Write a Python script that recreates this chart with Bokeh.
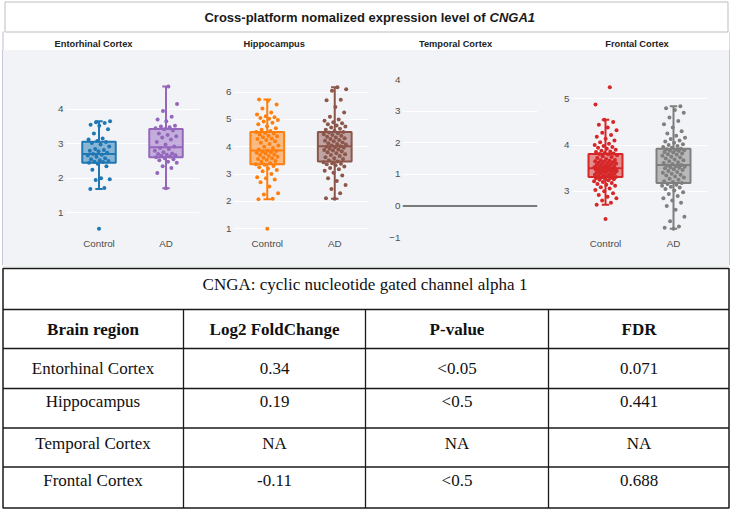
from bokeh.plotting import figure
from bokeh.models import Range1d, FixedTicker, Span, Spacer
from bokeh.layouts import column, row
from bokeh.embed import file_html
from bokeh.resources import INLINE
from bokeh.core.properties import value

# ---------------- data ----------------
title_main = "Cross-platform nomalized expression level of"
title_gene = "CNGA1"
regions = ["Entorhinal Cortex", "Hippocampus", "Temporal Cortex", "Frontal Cortex"]
groups = ["Control", "AD"]

# box stats: q1, median, q3, lower whisker, upper whisker
ent_ctrl_stats = [2.45, 2.70, 3.06, 1.69, 3.65]
ent_ad_stats = [2.61, 2.90, 3.43, 1.71, 4.66]
hip_ctrl_stats = [3.36, 3.86, 4.54, 2.08, 5.73]
hip_ad_stats = [3.46, 4.02, 4.54, 2.10, 6.18]
fro_ctrl_stats = [3.31, 3.50, 3.81, 2.71, 4.55]
fro_ad_stats = [3.18, 3.57, 3.92, 2.19, 4.84]

ent_ctrl_pts = [0.54, 1.69, 1.72, 1.95, 1.97, 2.00, 2.25, 2.35, 2.42, 2.45, 2.47, 2.48, 2.50,
                2.52, 2.55, 2.58, 2.62, 2.66, 2.68, 2.70, 2.74, 2.78, 2.80, 2.82, 2.85, 2.92,
                2.98, 3.02, 3.05, 3.08, 3.12, 3.15, 3.30, 3.42, 3.52, 3.55, 3.60, 3.62, 3.65]
ent_ad_pts = [1.71, 2.15, 2.30, 2.35, 2.45, 2.48, 2.52, 2.55, 2.58, 2.61, 2.63, 2.65, 2.67,
              2.68, 2.70, 2.72, 2.75, 2.80, 2.85, 2.88, 2.92, 2.98, 3.05, 3.12, 3.18, 3.22,
              3.25, 3.30, 3.38, 3.42, 3.45, 3.48, 3.50, 3.52, 3.65, 3.70, 3.78, 3.95, 4.15, 4.66]
hip_ctrl_pts = [1.00, 2.08, 2.10, 2.25, 2.30, 2.55, 2.70, 2.80, 2.85, 2.88, 3.00, 3.10, 3.15,
                3.20, 3.25, 3.30, 3.34, 3.36, 3.40, 3.45, 3.48, 3.52, 3.55, 3.58, 3.60, 3.63,
                3.66, 3.70, 3.72, 3.75, 3.78, 3.80, 3.82, 3.84, 3.86, 3.90, 3.95, 4.00, 4.05,
                4.10, 4.15, 4.20, 4.25, 4.28, 4.30, 4.35, 4.38, 4.40, 4.45, 4.48, 4.50, 4.54,
                4.58, 4.62, 4.68, 4.75, 4.82, 4.88, 4.92, 4.98, 5.02, 5.05, 5.08, 5.12, 5.18,
                5.25, 5.40, 5.55, 5.68, 5.73]
hip_ad_pts = [2.10, 2.12, 2.30, 2.45, 2.60, 2.75, 2.85, 2.95, 3.05, 3.12, 3.18, 3.22, 3.28,
              3.32, 3.36, 3.38, 3.40, 3.43, 3.46, 3.50, 3.55, 3.58, 3.62, 3.66, 3.70, 3.73,
              3.76, 3.80, 3.83, 3.86, 3.88, 3.90, 3.93, 3.96, 3.98, 4.00, 4.02, 4.05, 4.08,
              4.10, 4.13, 4.16, 4.20, 4.22, 4.25, 4.28, 4.31, 4.34, 4.37, 4.40, 4.43, 4.46,
              4.49, 4.52, 4.54, 4.58, 4.62, 4.66, 4.70, 4.74, 4.78, 4.82, 4.86, 4.90, 4.95,
              5.00, 5.10, 5.25, 5.45, 5.70, 5.72, 6.05, 6.10, 6.18]
fro_ctrl_pts = [2.40, 2.71, 2.75, 2.80, 2.85, 2.88, 2.92, 2.96, 3.00, 3.03, 3.06, 3.09, 3.12,
                3.14, 3.16, 3.18, 3.20, 3.22, 3.24, 3.25, 3.26, 3.27, 3.28, 3.29, 3.30, 3.31,
                3.32, 3.33, 3.34, 3.35, 3.36, 3.37, 3.38, 3.39, 3.40, 3.41, 3.42, 3.43, 3.44,
                3.45, 3.45, 3.46, 3.46, 3.47, 3.47, 3.48, 3.48, 3.49, 3.49, 3.50, 3.51, 3.52,
                3.53, 3.54, 3.55, 3.56, 3.57, 3.58, 3.59, 3.60, 3.61, 3.62, 3.63, 3.64, 3.65,
                3.66, 3.67, 3.68, 3.70, 3.72, 3.74, 3.76, 3.78, 3.80, 3.81, 3.82, 3.83, 3.85,
                3.86, 3.88, 3.90, 3.92, 3.94, 3.96, 3.98, 4.00, 4.03, 4.06, 4.10, 4.14, 4.18,
                4.22, 4.27, 4.32, 4.38, 4.44, 4.50, 4.55, 4.88, 5.25]
fro_ad_pts = [2.19, 2.21, 2.24, 2.35, 2.45, 2.60, 2.68, 2.75, 2.80, 2.85, 2.90, 2.94, 2.98,
              3.02, 3.05, 3.08, 3.10, 3.12, 3.14, 3.16, 3.18, 3.20, 3.22, 3.25, 3.27, 3.30,
              3.32, 3.34, 3.36, 3.38, 3.40, 3.42, 3.44, 3.46, 3.48, 3.50, 3.51, 3.52, 3.53,
              3.54, 3.56, 3.57, 3.59, 3.61, 3.63, 3.65, 3.67, 3.69, 3.71, 3.73, 3.75, 3.77,
              3.79, 3.80, 3.82, 3.84, 3.85, 3.87, 3.88, 3.89, 3.90, 3.91, 3.92, 3.94, 3.96,
              3.98, 4.00, 4.02, 4.05, 4.08, 4.10, 4.13, 4.16, 4.20, 4.25, 4.30, 4.38, 4.45,
              4.52, 4.60, 4.70, 4.76, 4.80, 4.84]

ent_ticks = [1, 2, 3, 4]
hip_ticks = [1, 2, 3, 4, 5, 6]
tem_ticks = [-1, 0, 1, 2, 3, 4]
fro_ticks = [3, 4, 5]

table_title = "CNGA: cyclic nucleotide gated channel alpha 1"
table_header = ["Brain region", "Log2 FoldChange", "P-value", "FDR"]
log2fc = ["0.34", "0.19", "NA", "-0.11"]
pvalue = ["<0.05", "<0.5", "NA", "<0.5"]
fdr = ["0.071", "0.441", "NA", "0.688"]

# ---------------- style ----------------
BG = "#f2f3f6"
LAV = "#cbc4de"
SANS = value("Liberation Sans")
SERIF = value("Liberation Serif")
TICK_COLOR = "#4d4d4d"
TFS = "17px"
PANEL_H = 215


def jitter_offsets(n, spread=0.17):
    return [spread * (2 * ((k * 0.6180339887 + 0.5) % 1.0) - 1) for k in range(n)]


def make_sub(width, left, right, yr, yticks, series, show_x=True, zero=False):
    p = figure(width=width, height=PANEL_H,
               x_range=Range1d(-0.5, 1.5), y_range=Range1d(*yr),
               min_border_left=left, min_border_right=right,
               min_border_top=29, min_border_bottom=28,
               toolbar_location=None, output_backend="svg",
               background_fill_color=BG, border_fill_color=BG)
    p.outline_line_color = None
    p.xgrid.grid_line_color = None
    p.ygrid.ticker = FixedTicker(ticks=yticks)
    p.ygrid.grid_line_color = "#ffffff"
    p.ygrid.grid_line_width = 1
    p.yaxis.ticker = FixedTicker(ticks=yticks)
    p.yaxis.major_label_overrides = {t: ("\u22121" if t < 0 else str(t)) for t in yticks}
    p.xaxis.ticker = FixedTicker(ticks=[0, 1] if show_x else [])
    p.xaxis.major_label_overrides = {0: groups[0], 1: groups[1]}
    for ax in (p.xaxis, p.yaxis):
        ax.axis_line_color = None
        ax.major_tick_line_color = None
        ax.minor_tick_line_color = None
        ax.major_tick_out = 0
        ax.major_tick_in = 0
        ax.major_label_text_font = "Liberation Sans"
        ax.major_label_text_font_size = "9.8px"
        ax.major_label_text_color = TICK_COLOR
    p.yaxis.major_label_standoff = 2
    p.xaxis.major_label_standoff = 0
    if zero:
        p.add_layout(Span(location=0, dimension="width", line_color="#7a7a7a", line_width=2))
    for gi, (stats, pts, col) in enumerate(series):
        q1, med, q3, lo, hi = stats
        p.segment(x0=[gi, gi], y0=[q3, q1], x1=[gi, gi], y1=[hi, lo], line_color=col, line_width=2)
        p.segment(x0=[gi - 0.055, gi - 0.055], y0=[hi, lo], x1=[gi + 0.055, gi + 0.055], y1=[hi, lo],
                  line_color=col, line_width=2)
        p.vbar(x=[gi], width=0.5, top=[q3], bottom=[q1], fill_color=col, fill_alpha=0.5,
               line_color=col, line_width=2)
        p.segment(x0=[gi - 0.25], y0=[med], x1=[gi + 0.25], y1=[med], line_color=col, line_width=2)
        offs = jitter_offsets(len(pts))
        p.scatter(x=[gi + o for o in offs], y=pts, size=4, color=col, line_width=0)
    return p


sub1 = make_sub(213, 62, 17, (0.285, 4.86), ent_ticks,
                [(ent_ctrl_stats, ent_ctrl_pts, "#1f77b4"), (ent_ad_stats, ent_ad_pts, "#9467bd")])
sub2 = make_sub(169, 17, 17, (0.68, 6.46), hip_ticks,
                [(hip_ctrl_stats, hip_ctrl_pts, "#ff7f0e"), (hip_ad_stats, hip_ad_pts, "#8c564b")])
sub3 = make_sub(169, 17, 17, (-1, 4), tem_ticks, [], show_x=False, zero=True)
sub4 = make_sub(175, 17, 22, (2.0, 5.42), fro_ticks,
                [(fro_ctrl_stats, fro_ctrl_pts, "#d62728"), (fro_ad_stats, fro_ad_pts, "#7f7f7f")])

# ---------------- header ----------------
head = figure(width=730, height=50, x_range=Range1d(0, 730), y_range=Range1d(50, 0),
              x_axis_location=None, y_axis_location=None, min_border=0,
              toolbar_location=None, output_backend="svg",
              background_fill_color="white", border_fill_color="white")
head.outline_line_color = None
head.grid.grid_line_color = None
head.quad(left=[4.5], right=[727.5], top=[1.5], bottom=[31.5], fill_color="white",
          line_color="#bdbdbd", line_width=1)
head.segment(x0=[2.5, 729.5], y0=[31, 31], x1=[2.5, 729.5], y1=[50, 50], line_color=LAV, line_width=1.2)
head.text(x=[485], y=[17], text=[title_main], text_font=SANS, text_font_style="bold",
          text_font_size="13px", text_align="right", text_baseline="middle", text_color="#1a1a1a")
head.text(x=[489], y=[17], text=[title_gene], text_font=SANS, text_font_style="bold italic",
          text_font_size="13px", text_align="left", text_baseline="middle", text_color="#1a1a1a")
head.text(x=[93, 273.7, 455, 636.5], y=[43, 43, 43, 43], text=regions, text_font=SANS,
          text_font_style="bold", text_font_size="9.3px", text_align="center",
          text_baseline="middle", text_color="#222222")

# ---------------- table ----------------
tab = figure(width=730, height=244, x_range=Range1d(0, 730), y_range=Range1d(509, 265),
             x_axis_location=None, y_axis_location=None, min_border=0,
             toolbar_location=None, output_backend="svg",
             background_fill_color="white", border_fill_color="white")
tab.outline_line_color = None
tab.grid.grid_line_color = None
tab.segment(x0=[2], y0=[265.5], x1=[729], y1=[265.5], line_color="#d3dbd7", line_width=1)
tab.quad(left=[2.5], right=[728.5], top=[268], bottom=[507.5], fill_color=None,
         line_color="#1a1a1a", line_width=1.5)
row_lines = [309, 348, 388, 427.5, 466.5]
tab.segment(x0=[2.5] * len(row_lines), y0=row_lines, x1=[728.5] * len(row_lines), y1=row_lines,
            line_color="#1a1a1a", line_width=1.3)
col_lines = [183, 365, 548]
tab.segment(x0=col_lines, y0=[309] * 3, x1=col_lines, y1=[507.5] * 3,
            line_color="#1a1a1a", line_width=1.3)
tab.text(x=[364.5], y=[283.5], text=[table_title], text_font=SERIF, text_font_size=TFS,
         text_align="center", text_baseline="middle", text_color="#111111")
col_x = [92.5, 274, 456.5, 638.5]
tab.text(x=col_x, y=[329] * 4, text=table_header, text_font=SERIF, text_font_style="bold",
         text_font_size=TFS, text_align="center", text_baseline="middle", text_color="#111111")
row_y = [367.5, 401, 443, 480]
for cx, vals in zip(col_x, [regions, log2fc, pvalue, fdr]):
    tab.text(x=[cx] * len(vals), y=row_y, text=vals, text_font=SERIF, text_font_size=TFS,
             text_align="center", text_baseline="middle", text_color="#111111")

white_pad = Spacer(width=2, height=PANEL_H, styles={"background-color": "white"})
left_bar = Spacer(width=1, height=PANEL_H, styles={"background-color": LAV})
right_bar = Spacer(width=1, height=PANEL_H, styles={"background-color": LAV})
panel = row(white_pad, left_bar, sub1, sub2, sub3, sub4, right_bar, styles={"background-color": BG})
layout = column(head, panel, tab)

open("out.html", "w").write(file_html(layout, INLINE))
